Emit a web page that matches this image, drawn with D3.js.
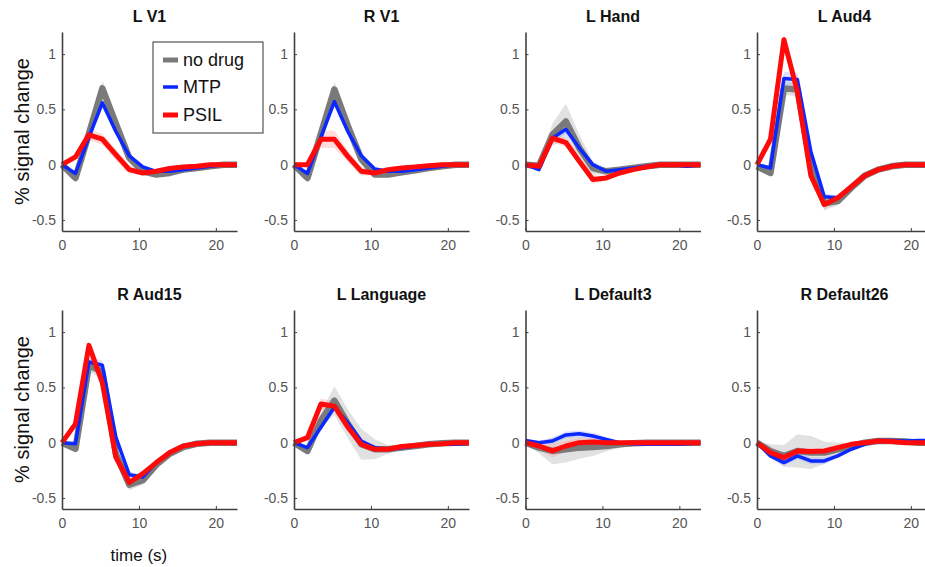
<!DOCTYPE html>
<html><head><meta charset="utf-8">
<script src="https://cdn.jsdelivr.net/npm/d3@7"></script>
<style>
html,body{margin:0;padding:0;background:#fff;}
svg{display:block;font-family:"Liberation Sans",Arial,Helvetica,sans-serif;}
</style></head>
<body>
<svg id="chart" width="925" height="567"></svg>
<script>
// ---------- data ----------
const timePoints = [0,1.75,3.5,5.25,7,8.75,10.5,12.25,14,15.75,17.5,19.25,21,22.75];
const regions = ["L V1","R V1","L Hand","L Aud4","R Aud15","L Language","L Default3","R Default26"];
const seriesNames = ["no drug","MTP","PSIL"];
const xTicks = [0,10,20];
const yTicks = [-0.5,0,0.5,1];

const noDrug = [
  [0,-0.12,0.28,0.69,0.37,0.06,-0.06,-0.09,-0.075,-0.045,-0.03,-0.015,0,0],
  [0,-0.12,0.28,0.68,0.35,0.05,-0.09,-0.09,-0.07,-0.05,-0.03,-0.015,0,0],
  [0,-0.01,0.27,0.39,0.15,-0.03,-0.06,-0.045,-0.03,-0.015,0,0,0,0],
  [-0.015,-0.075,0.69,0.68,-0.01,-0.35,-0.33,-0.21,-0.1,-0.045,-0.015,0,0,0],
  [0,-0.055,0.70,0.64,-0.1,-0.38,-0.34,-0.2,-0.1,-0.04,-0.01,0,0,0],
  [0,-0.075,0.2,0.38,0.17,-0.015,-0.06,-0.06,-0.045,-0.03,-0.015,-0.005,0,0],
  [0,-0.045,-0.075,-0.06,-0.045,-0.04,-0.03,-0.015,-0.005,0,0,0,0,0],
  [0,-0.075,-0.12,-0.075,-0.09,-0.09,-0.06,-0.03,0,0.015,0.015,0.01,0,0]
];
const mtp = [
  [0,-0.08,0.25,0.56,0.3,0.08,-0.02,-0.06,-0.06,-0.045,-0.03,-0.015,0,0],
  [0,-0.08,0.25,0.57,0.3,0.08,-0.04,-0.06,-0.06,-0.045,-0.03,-0.015,0,0],
  [0,-0.045,0.24,0.32,0.15,0,-0.06,-0.045,-0.03,-0.015,0,0,-0.015,0],
  [0,-0.03,0.78,0.77,0.12,-0.29,-0.3,-0.2,-0.1,-0.045,-0.01,0,0,0],
  [0,-0.01,0.73,0.70,0.05,-0.29,-0.31,-0.18,-0.09,-0.025,-0.01,0,0,0],
  [0,-0.045,0.14,0.32,0.18,0.015,-0.045,-0.06,-0.045,-0.03,-0.015,-0.015,-0.015,-0.005],
  [0.02,0,0.015,0.07,0.08,0.06,0.03,0,-0.01,-0.015,-0.015,-0.015,-0.01,0],
  [0,-0.12,-0.18,-0.12,-0.165,-0.165,-0.12,-0.06,-0.015,0.02,0.02,0.015,0.02,0.02]
];
const psil = [
  [0,0.07,0.27,0.23,0.09,-0.045,-0.075,-0.06,-0.035,-0.02,-0.015,0,0,0],
  [0,0,0.23,0.23,0.075,-0.06,-0.075,-0.045,-0.03,-0.02,-0.01,0,0,0],
  [0,-0.015,0.24,0.2,0.03,-0.135,-0.12,-0.075,-0.045,-0.02,0,0,0,0],
  [0,0.23,1.13,0.66,-0.1,-0.36,-0.3,-0.2,-0.1,-0.045,-0.015,0,0,0],
  [0,0.17,0.88,0.54,-0.13,-0.36,-0.28,-0.18,-0.09,-0.03,-0.01,0,0,0],
  [0,0.045,0.35,0.33,0.14,-0.015,-0.06,-0.06,-0.035,-0.025,-0.015,-0.01,0,0],
  [0,-0.03,-0.075,-0.03,0,0.005,0,0,0,0,0,0,0,0],
  [0,-0.09,-0.135,-0.075,-0.08,-0.075,-0.045,-0.015,0,0.015,0.01,0,0,0]
];
const seNoDrug = [
  [0.01,0.03,0.05,0.07,0.05,0.03,0.02,0.02,0.015,0.01,0.01,0.01,0.01,0.01],
  [0.01,0.03,0.05,0.07,0.05,0.03,0.02,0.015,0.01,0.01,0.01,0.01,0.01,0.01],
  [0.01,0.02,0.1,0.16,0.12,0.06,0.03,0.02,0.01,0.01,0.01,0.01,0.01,0.01],
  [0.01,0.04,0.06,0.06,0.05,0.06,0.04,0.02,0.01,0.01,0.01,0.01,0.01,0.01],
  [0.01,0.03,0.06,0.06,0.05,0.05,0.04,0.02,0.01,0.01,0.01,0.01,0.01,0.01],
  [0.01,0.03,0.07,0.13,0.13,0.14,0.09,0.04,0.02,0.01,0.01,0.01,0.01,0.01],
  [0.01,0.05,0.12,0.12,0.1,0.08,0.05,0.03,0.02,0.01,0.01,0.01,0.01,0.01],
  [0.01,0.06,0.1,0.15,0.15,0.1,0.06,0.03,0.02,0.01,0.01,0.01,0.01,0.01]
];
const seMTP = [
  [0.01,0.02,0.03,0.04,0.03,0.02,0.015,0.01,0.01,0.01,0.01,0.01,0.01,0.01],
  [0.01,0.02,0.03,0.04,0.03,0.02,0.015,0.01,0.01,0.01,0.01,0.01,0.01,0.01],
  [0.01,0.02,0.04,0.04,0.03,0.02,0.01,0.01,0.01,0.01,0.01,0.01,0.01,0.01],
  [0.01,0.02,0.06,0.06,0.04,0.03,0.02,0.01,0.01,0.01,0.01,0.01,0.01,0.01],
  [0.01,0.02,0.04,0.04,0.03,0.03,0.02,0.01,0.01,0.01,0.01,0.01,0.01,0.01],
  [0.01,0.02,0.03,0.03,0.03,0.02,0.01,0.01,0.01,0.01,0.01,0.01,0.01,0.01],
  [0.01,0.02,0.03,0.03,0.03,0.03,0.02,0.01,0.01,0.01,0.01,0.01,0.01,0.01],
  [0.01,0.02,0.03,0.03,0.03,0.03,0.02,0.01,0.01,0.01,0.01,0.01,0.01,0.01]
];
const sePSIL = [
  [0.01,0.03,0.05,0.05,0.05,0.04,0.02,0.015,0.01,0.01,0.01,0.01,0.01,0.01],
  [0.01,0.02,0.08,0.08,0.05,0.04,0.02,0.01,0.01,0.01,0.01,0.01,0.01,0.01],
  [0.01,0.02,0.04,0.04,0.04,0.04,0.02,0.01,0.01,0.01,0.01,0.01,0.01,0.01],
  [0.01,0.03,0.06,0.05,0.04,0.05,0.03,0.02,0.01,0.01,0.01,0.01,0.01,0.01],
  [0.01,0.02,0.04,0.04,0.03,0.03,0.02,0.01,0.01,0.01,0.01,0.01,0.01,0.01],
  [0.01,0.02,0.05,0.04,0.03,0.02,0.01,0.01,0.01,0.01,0.01,0.01,0.01,0.01],
  [0.01,0.03,0.06,0.05,0.04,0.03,0.02,0.01,0.01,0.01,0.01,0.01,0.01,0.01],
  [0.01,0.02,0.03,0.03,0.03,0.02,0.01,0.01,0.01,0.01,0.01,0.01,0.01,0.01]
];

// ---------- styles ----------
const lineColors = ["#7a7a7a","#0a28ff","#ff0a0a"];
const bandColors = ["#c8c8c8","#9aa6ff","#ff9a9a"];
const bandOpacity = [0.55,0.35,0.35];
const lineWidths = [6.5,3.5,5];

const svg = d3.select("#chart");
const colX = [62,294,525.5,757];
const rowY = [32,310];
const pw = 175, ph = 199;

const x = d3.scaleLinear().domain([0,22.75]).range([0,pw]);
const y = d3.scaleLinear().domain([-0.6,1.2]).range([ph,0]);
const axisColor = "#404040";

const means = [noDrug, mtp, psil];
const ses = [seNoDrug, seMTP, sePSIL];

regions.forEach((name,i)=>{
  const r = Math.floor(i/4), c = i%4;
  const g = svg.append("g").attr("transform",`translate(${colX[c]},${rowY[r]})`);

  [0,1,2].forEach(s=>{
    const m = means[s][i], e = ses[s][i];
    const area = d3.area().x((d,k)=>x(timePoints[k])).y0((d,k)=>y(m[k]-e[k])).y1((d,k)=>y(m[k]+e[k]));
    g.append("path").attr("d",area(m)).attr("fill",bandColors[s]).attr("fill-opacity",bandOpacity[s]);
  });
  [0,1,2].forEach(s=>{
    const m = means[s][i];
    const line = d3.line().x((d,k)=>x(timePoints[k])).y(d=>y(d));
    g.append("path").attr("d",line(m)).attr("fill","none")
      .attr("stroke",lineColors[s]).attr("stroke-width",lineWidths[s])
      .attr("stroke-linejoin","round");
  });

  const xa = g.append("g").attr("transform",`translate(0,${ph})`)
    .call(d3.axisBottom(x).tickValues(xTicks).tickSizeInner(-3).tickSizeOuter(0).tickPadding(9).tickFormat(d3.format("d")));
  const ya = g.append("g")
    .call(d3.axisLeft(y).tickValues(yTicks).tickSizeInner(-3).tickSizeOuter(0).tickPadding(6).tickFormat(d=>String(d)));
  [xa,ya].forEach(a=>{
    a.select(".domain").attr("stroke",axisColor).attr("stroke-width",1.6);
    a.selectAll(".tick line").attr("stroke",axisColor).attr("stroke-width",1);
    a.selectAll(".tick text").attr("fill","#555").attr("font-size",14)
      .attr("font-family","Liberation Sans, Arial, sans-serif");
  });

  g.append("text").attr("x",pw/2).attr("y",-10).attr("text-anchor","middle")
    .attr("font-size",16).attr("font-weight","bold").attr("fill","#111").text(name);
});

rowY.forEach(ry=>{
  svg.append("text").attr("transform",`translate(29,${ry+ph/2}) rotate(-90)`)
    .attr("text-anchor","middle").attr("font-size",20).attr("fill","#111").text("% signal change");
});
svg.append("text").attr("x",colX[0]+x(10)).attr("y",561).attr("text-anchor","middle")
  .attr("font-size",17).attr("fill","#111").text("time (s)");

const lg = svg.append("g");
lg.append("rect").attr("x",153).attr("y",42).attr("width",110).attr("height",91)
  .attr("fill","#fff").attr("stroke","#333").attr("stroke-width",1);
const legY = [60,87,115];
seriesNames.forEach((n,s)=>{
  lg.append("line").attr("x1",163).attr("x2",178).attr("y1",legY[s]).attr("y2",legY[s])
    .attr("stroke",lineColors[s]).attr("stroke-width",s===1?3.5:5);
  lg.append("text").attr("x",183).attr("y",legY[s]+6).attr("font-size",18).attr("fill","#111").text(n);
});
</script>
</body></html>
